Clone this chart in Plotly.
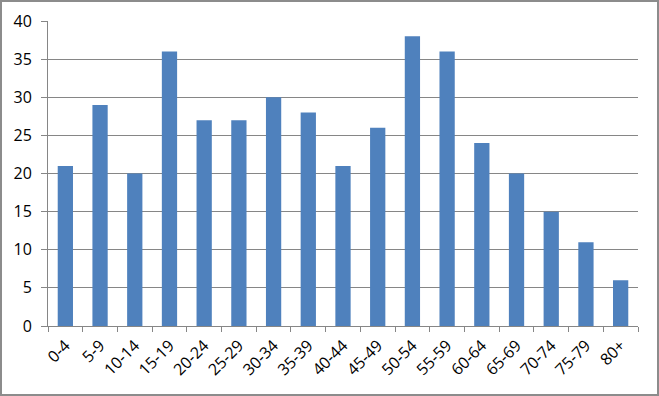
import plotly.graph_objects as go

categories = ["0-4", "5-9", "10-14", "15-19", "20-24", "25-29", "30-34", "35-39", "40-44",
              "45-49", "50-54", "55-59", "60-64", "65-69", "70-74", "75-79", "80+"]
values = [21, 29, 20, 36, 27, 27, 30, 28, 21, 26, 38, 36, 24, 20, 15, 11, 6]

W, H = 659, 396
ml, mr, mt, mb = 48, 21, 21, 70
pw, ph = W - ml - mr, H - mt - mb

fig = go.Figure(go.Bar(x=categories, y=values, marker=dict(color="#4F81BD", line=dict(width=0)),
                       width=0.44))

grid = "#868686"
fig.update_layout(
    width=W, height=H,
    margin=dict(l=ml, r=mr, t=mt, b=mb, autoexpand=False),
    paper_bgcolor="white", plot_bgcolor="white",
    showlegend=False,
    font=dict(family="Open Sans, Liberation Sans, sans-serif", size=14, color="black"),
    xaxis=dict(type="category", tickangle=-45, showgrid=False, showline=True, linecolor=grid,
               linewidth=1, ticks="outside", tickson="boundaries", ticklen=5, tickcolor=grid,
               tickfont=dict(size=16), automargin=False, ticklabelstandoff=3),
    yaxis=dict(range=[0, 40], dtick=5, showgrid=True, gridcolor=grid, gridwidth=1,
               showline=True, linecolor=grid, linewidth=1, ticks="outside", ticklen=6,
               tickcolor=grid, tickfont=dict(size=16), zeroline=False, automargin=False,
               ticklabelstandoff=6),
    shapes=[dict(type="rect", xref="paper", yref="paper",
                 x0=(-ml + 1) / pw, x1=(pw + mr - 1) / pw,
                 y0=(-mb + 1) / ph, y1=(ph + mt - 1) / ph,
                 line=dict(color="#8c8c8c", width=2), layer="above")],
)

fig.write_html("out.html", config={"displayModeBar": False},
               post_script="document.body.style.margin='0';document.body.style.overflow='hidden';")
